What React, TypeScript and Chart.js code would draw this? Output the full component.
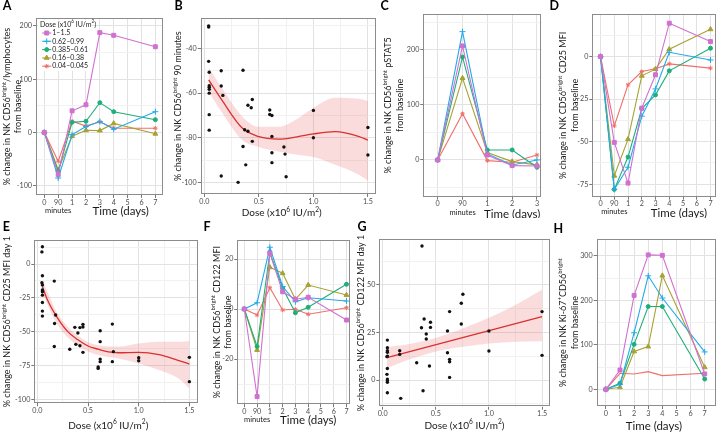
import React, { useEffect, useRef } from "react";
import { Chart, registerables } from "chart.js";
import { drawPoint } from "chart.js/helpers";

Chart.register(...registerables);

const FONT = "Lato, 'Open Sans', 'DejaVu Sans', sans-serif";
const INK = "#1a1a1a";
const TICK_INK = "#4d4d4d";
const TICK_MARK = "#7a7a7a";
const GRID_MAJOR = "#e2e2e2";
const GRID_MINOR = "#f1f1f1";
const FRAME = "#8c8c8c";
const FIT_RED = "#d8312e";
const BAND_PINK = "rgba(236, 96, 96, 0.22)";

// ---------- dose groups ----------
const DOSE_GROUPS = ["1–1.5", "0.62–0.99", "0.385–0.61", "0.16–0.38", "0.04–0.045"];
const LEGEND_TITLE = "Dose (x10^{6} IU/m^{2})";
const GROUP_COLORS = ["#d070d0", "#22aae8", "#1fae7a", "#a8a232", "#ef6f6a"];
const GROUP_SHAPES = ["rect", "cross", "circle", "triangle", "star"];
const GROUP_RADII = [2.8, 3, 2, 2.8, 2.2];

// ---------- time axes ----------
const LABELS_7DAY = ["0", "90", "1", "2", "3", "4", "5", "6", "7"];
const LABELS_3DAY = ["0", "90", "1", "2", "3"];
const LABELS_DAYS = ["0", "1", "2", "3", "4", "5", "6", "7"];
const TICKS_7DAY = [0, 1, 2, 3, 4, 5, 6, 7, 8];
const TICKS_3DAY = [0, 1, 2, 3, 4];
const TICKS_DAYS = [0, 1, 2, 3, 4, 5, 6, 7];
const SAMPLES_7DAY = [0, 1, 2, 3, 4, 5, 8]; // 0, 90 min, day 1, 2, 3, 4, 7
const SAMPLES_3DAY = [0, 1, 2, 3, 4]; // 0, 90 min, day 1, 2, 3
const SAMPLES_DAYS = [0, 1, 2, 3, 4, 7];
const DOSE_TICKS = [0, 0.25, 0.5, 0.75, 1, 1.25, 1.5];

// ---------- A: CD56bright / lymphocytes ----------
const A_LYMPH = [
  [0, -79, 40.6, 52, 187.5, 182.5, 161],
  [0, -85.6, -4, 11, 20.6, 6, 39],
  [0, -73, 19, 21, 56, 39, 24],
  [0, -70, -7, 4, 3.5, 17, -2.5],
  [0, -54, 21, 12, 20, 8, 8],
];
const A_Y_TICKS = [-100, -50, 0, 50, 100, 150, 200];

// ---------- B: 90 minutes vs dose ----------
const B_DOSE = [0.04, 0.04, 0.04, 0.045, 0.045, 0.045, 0.045, 0.045, 0.045, 0.045,
  0.155, 0.155, 0.17, 0.155, 0.355, 0.4, 0.44, 0.43, 0.37, 0.4, 0.44, 0.355, 0.38, 0.31,
  0.6, 0.6, 0.62, 0.62, 0.62, 0.62, 0.73, 0.74, 0.75, 1.0, 1.0, 1.5, 1.5];
const B_CHANGE = [-30, -30.5, -45.8, -50.7, -56.7, -57.4, -58.3, -60, -69.6, -76.5,
  -50, -56.8, -61, -97, -49.8, -65.4, -62.8, -66.5, -76.3, -77, -81.5, -83.8, -92, -99.8,
  -67.5, -69.5, -70, -79.3, -86.6, -91, -84, -87.2, -97.3, -67.7, -79.9, -75.3, -87.6];
const B_FIT_X = [0.04, 0.16, 0.35, 0.5, 0.68, 0.85, 1.0, 1.2, 1.42, 1.5];
const B_FIT_Y = [-54.1, -63, -75.7, -79.4, -80.5, -79.5, -78.2, -77.2, -79.4, -81];
const B_BAND_HI = [-48.5, -57.5, -70.5, -75, -75, -71.5, -66.5, -62, -62.5, -63.5];
const B_BAND_LO = [-59.5, -68.5, -81, -84, -86, -87.5, -88.5, -92, -96.5, -99];
const B_Y_TICKS = [-100, -90, -80, -70, -60, -50, -40, -30];

// ---------- C: pSTAT5 ----------
const C_PSTAT5 = [
  [0, 207, 9, -10.3, -11],
  [0, 233, 10.9, -9, 0],
  [0, 187, 18.2, 18.2, -13.3],
  [0, 148.5, 13.3, -3, -9],
  [0, 84, -1.2, -4.2, 9],
];
const C_Y_TICKS = [-50, 0, 50, 100, 150, 200, 250];

// ---------- D: CD25 MFI ----------
const D_CD25 = [
  [0, -50.4, -74.3, -30.3, -10.7, 19.6, 8.8],
  [0, -78, -65, -35, -19, 2.5, -2],
  [0, -78, -59, -30.5, -22.5, -8.4, 4.9],
  [0, -70, -48.5, -11.3, -7.4, 4.3, 16],
  [0, -40.7, -16.6, -8.8, -7.2, -4.3, -6.8],
];
const D_Y_TICKS = [-75, -62.5, -50, -37.5, -25, -12.5, 0, 12.5];

// ---------- E: CD25 MFI day 1 vs dose ----------
const E_DOSE = [0.05, 0.045, 0.05, 0.045, 0.05, 0.05, 0.05, 0.05, 0.05, 0.05, 0.05,
  0.167, 0.17, 0.18, 0.167, 0.32, 0.37, 0.38, 0.4, 0.42, 0.42, 0.45, 0.45, 0.45,
  0.62, 0.62, 0.6, 0.6, 0.62, 0.62, 0.74, 0.74, 0.75, 1.0, 1.0, 1.5, 1.5];
const E_CHANGE = [12.8, 9, -8.6, -13.8, -15.5, -19.2, -20.5, -23, -28.4, -34.8, -38.5,
  -12.6, -44, -37.7, -61, -63, -46.8, -59.4, -51, -60.4, -47, -44.6, -46.6, -65.3,
  -49.3, -57.4, -76.2, -77.2, -70.3, -72.2, -44.4, -72.2, -64.8, -69.3, -71.5, -69, -87];
const E_FIT_X = [0.05, 0.1, 0.2, 0.3, 0.4, 0.5, 0.6, 0.7, 0.8, 1.0, 1.2, 1.38, 1.5];
const E_FIT_Y = [-16.8, -26.6, -40, -50, -56, -60.6, -63, -65, -65.6, -65.3, -67, -71, -74];
const E_BAND_X = [0.05, 0.2, 0.4, 0.6, 0.8, 1.0, 1.2, 1.4, 1.5];
const E_BAND_HI = [-11.8, -36.5, -53, -60, -61, -58.7, -57.4, -57.5, -57];
const E_BAND_LO = [-21.7, -45, -60.4, -67.3, -69.8, -73.5, -78.4, -85, -92];
const E_Y_TICKS = [-100, -87.5, -75, -62.5, -50, -37.5, -25, -12.5, 0, 12.5];

// ---------- F: CD122 MFI ----------
const F_CD122 = [
  [0, -35, 22.3, 6.9, 3.9, 4.7, -4.4],
  [0, 2.5, 24.7, 9, 2.9, 4.5, 3.2],
  [0, -15, 22.7, 8.3, -1.5, 0.7, 9.9],
  [0, -16.4, 16.7, 14.3, 3.9, 9.6, 5.6],
  [0, -2.4, 8.5, -0.4, -0.1, -2.1, 0.5],
];
const F_Y_TICKS = [-30, -20, -10, 0, 10, 20];

// ---------- G: CD122 MFI day 1 vs dose ----------
const G_DOSE = [0.044, 0.044, 0.044, 0.044, 0.044, 0.04, 0.044, 0.04, 0.044, 0.044, 0.044, 0.044,
  0.16, 0.16, 0.17, 0.32, 0.37, 0.365, 0.39, 0.38, 0.41, 0.41, 0.45, 0.45, 0.44,
  0.61, 0.61, 0.63, 0.63, 0.63, 0.63, 0.74, 0.74, 0.755, 1.0, 1.0, 1.5, 1.5];
const G_CHANGE = [21, 17, 15.4, 14.6, 12.6, 12.3, 6.1, 3, 0.5, -0.4, -1.2, -6.7,
  15.4, 13.5, -9.6, 9.1, 70.5, 27.5, 32.1, -5.6, 24.2, 21.6, 30.4, 27.7, 7.4,
  25.8, 14.4, 36, 10.9, 9.6, 1.4, 29.5, 40.4, 45.1, 25.8, 15.3, 36, 13];
const G_FIT_X = [0.04, 1.5];
const G_FIT_Y = [11.8, 33.4];
const G_BAND_X = [0.04, 0.2, 0.4, 0.6, 0.8, 1.0, 1.2, 1.5];
const G_BAND_HI = [17.4, 18.5, 20.7, 24, 28.2, 32.8, 38, 47.5];
const G_BAND_LO = [6.2, 9.9, 13.5, 16.2, 17.8, 19.2, 20, 20.4];
const G_Y_TICKS = [-12.5, 0, 12.5, 25, 37.5, 50, 62.5];

// ---------- H: Ki-67+ ----------
const H_KI67 = [
  [0, 43.4, 211, 302, 301, 34.5],
  [0, 11, 127, 255, 205, 84],
  [0, 13.5, 101, 186, 186, 23],
  [0, 4.5, 85, 96, 255.4, 49.4],
  [0, 36, 34.5, 39.7, 30.7, 36],
];
const H_Y_TICKS = [0, 50, 100, 150, 200, 250, 300];

// ---------- helpers ----------
const isMult = (v: number, m: number) => {
  const r = v / m;
  return Math.abs(r - Math.round(r)) < 1e-6;
};

function groupSets(xs: number[], rows: number[][], markerless: number[] = []) {
  return rows.map((row, g) => ({
    type: "line",
    label: DOSE_GROUPS[g],
    data: row.map((y, i) => ({ x: xs[i], y })),
    borderColor: GROUP_COLORS[g],
    backgroundColor: GROUP_COLORS[g],
    pointBackgroundColor: GROUP_COLORS[g],
    pointBorderColor: GROUP_COLORS[g],
    borderWidth: 1.1,
    pointStyle: GROUP_SHAPES[g],
    pointRadius: markerless.includes(g) ? 0 : GROUP_RADII[g],
    pointBorderWidth: 1,
    tension: 0,
    fill: false,
  }));
}

function scatterSets(dose: number[], change: number[], fitX: number[], fitY: number[],
  bandX: number[], bandHi: number[], bandLo: number[], smooth: boolean) {
  const interp = smooth ? { cubicInterpolationMode: "monotone" } : { tension: 0 };
  return [
    {
      type: "line", label: "patients",
      data: dose.map((x, i) => ({ x, y: change[i] })),
      showLine: false, pointRadius: 1.7, pointBorderWidth: 0,
      pointBackgroundColor: "#111", pointBorderColor: "#111",
    },
    {
      type: "line", label: "fit",
      data: fitX.map((x, i) => ({ x, y: fitY[i] })),
      borderColor: FIT_RED, borderWidth: 1.3, pointRadius: 0, fill: false, ...interp,
    },
    {
      type: "line", label: "band upper",
      data: bandX.map((x, i) => ({ x, y: bandHi[i] })),
      borderColor: "rgba(0,0,0,0)", borderWidth: 0, pointRadius: 0,
      backgroundColor: BAND_PINK, fill: "+1", cubicInterpolationMode: "monotone",
    },
    {
      type: "line", label: "band lower",
      data: bandX.map((x, i) => ({ x, y: bandLo[i] })),
      borderColor: "rgba(0,0,0,0)", borderWidth: 0, pointRadius: 0,
      fill: false, cubicInterpolationMode: "monotone",
    },
  ];
}

// rich text: "^{...}" marks a superscript run
function parseRich(s: string) {
  const out: { t: string; sup: boolean }[] = [];
  const re = /\^\{([^}]*)\}/g;
  let last = 0;
  let m: RegExpExecArray | null;
  while ((m = re.exec(s))) {
    if (m.index > last) out.push({ t: s.slice(last, m.index), sup: false });
    out.push({ t: m[1], sup: true });
    last = m.index + m[0].length;
  }
  if (last < s.length) out.push({ t: s.slice(last), sup: false });
  return out;
}

function drawRich(ctx: CanvasRenderingContext2D, s: string, x: number, y: number, size: number,
  align: "left" | "center", rotate: boolean) {
  const parts = parseRich(s);
  const supSize = size * 0.66;
  const widths = parts.map((p) => {
    ctx.font = `${p.sup ? supSize : size}px ${FONT}`;
    return ctx.measureText(p.t).width;
  });
  const total = widths.reduce((a, b) => a + b, 0);
  ctx.save();
  ctx.translate(x, y);
  if (rotate) ctx.rotate(-Math.PI / 2);
  ctx.textAlign = "left";
  ctx.textBaseline = "middle";
  let cx = align === "center" ? -total / 2 : 0;
  parts.forEach((p, i) => {
    ctx.font = `${p.sup ? supSize : size}px ${FONT}`;
    ctx.fillText(p.t, cx, p.sup ? -size * 0.36 : 0);
    cx += widths[i];
  });
  ctx.restore();
}

type Txt = { text: string; xv: number; dy: number; size: number };
type Panel = {
  key: string; letter: string; letterX: number; letterY: number;
  left: number; top: number; w: number; h: number;
  plotL: number; plotT: number; plotR: number; plotB: number;
  xMin: number; xMax: number; xTicks: number[];
  xLabel: (v: number) => string; xMajor: (v: number) => boolean;
  yMin: number; yMax: number; yTicks: number[]; yStep: number;
  yTitle: string[]; yTitleX: number;
  datasets: any[]; texts: Txt[]; legend?: boolean;
};

const timeLabel = (labels: string[]) => (v: number) => labels[Math.round(v)] ?? "";
const doseLabel = (v: number) => (isMult(v, 0.5) ? v.toFixed(1) : "");
const doseMajor = (v: number) => isMult(v, 0.5);
const allMajor = () => true;

const BRIGHT = "CD56^{bright}";
const DOSE_TITLE = "Dose (x10^{6} IU/m^{2})";
const TIME_TITLE = "Time (days)";
const FROM_BASE = "from baseline";

const PANELS: Panel[] = [
  {
    key: "A", letter: "A", letterX: 7, letterY: 5.5,
    left: 0, top: 0, w: 172, h: 218, plotL: 36, plotT: 18, plotR: 163, plotB: 195,
    xMin: -0.6, xMax: 8.55, xTicks: TICKS_7DAY, xLabel: timeLabel(LABELS_7DAY), xMajor: allMajor,
    yMin: -117.5, yMax: 215, yTicks: A_Y_TICKS, yStep: 100,
    yTitle: [`% change in NK ${BRIGHT}/lymphocytes`, FROM_BASE], yTitleX: 7,
    datasets: groupSets(SAMPLES_7DAY, A_LYMPH),
    texts: [{ text: "minutes", xv: 1, dy: 16, size: 7.5 }, { text: TIME_TITLE, xv: 5.5, dy: 16, size: 11.5 }],
    legend: true,
  },
  {
    key: "B", letter: "B", letterX: 178.5, letterY: 5.5,
    left: 172, top: 0, w: 208, h: 218, plotL: 200.7, plotT: 18.3, plotR: 376.7, plotB: 194,
    xMin: -0.033, xMax: 1.574, xTicks: DOSE_TICKS, xLabel: doseLabel, xMajor: doseMajor,
    yMin: -105, yMax: -26.6, yTicks: B_Y_TICKS, yStep: 20,
    yTitle: [`% change in NK ${BRIGHT} 90 minutes`], yTitleX: 178,
    datasets: scatterSets(B_DOSE, B_CHANGE, B_FIT_X, B_FIT_Y, B_FIT_X, B_BAND_HI, B_BAND_LO, true),
    texts: [{ text: DOSE_TITLE, xv: 0.71, dy: 19, size: 10 }],
  },
  {
    key: "C", letter: "C", letterX: 384.7, letterY: 5.5,
    left: 380, top: 0, w: 168, h: 218, plotL: 423.3, plotT: 14, plotR: 541.7, plotB: 196.7,
    xMin: -0.58, xMax: 4.19, xTicks: TICKS_3DAY, xLabel: timeLabel(LABELS_3DAY), xMajor: allMajor,
    yMin: -66.7, yMax: 265, yTicks: C_Y_TICKS, yStep: 100,
    yTitle: [`% change in NK ${BRIGHT} pSTAT5`, FROM_BASE], yTitleX: 388.3,
    datasets: groupSets(SAMPLES_3DAY, C_PSTAT5),
    texts: [{ text: "minutes", xv: 1, dy: 15.6, size: 7.5 }, { text: TIME_TITLE, xv: 3.0, dy: 18, size: 11.5 }],
  },
  {
    key: "D", letter: "D", letterX: 554.3, letterY: 5.5,
    left: 548, top: 0, w: 173, h: 218, plotL: 592.3, plotT: 14, plotR: 719.3, plotB: 196.7,
    xMin: -0.6, xMax: 8.4, xTicks: TICKS_7DAY, xLabel: timeLabel(LABELS_7DAY), xMajor: allMajor,
    yMin: -82.3, yMax: 25, yTicks: D_Y_TICKS, yStep: 25,
    yTitle: [`% change in NK ${BRIGHT} CD25 MFI`, FROM_BASE], yTitleX: 563.5,
    datasets: groupSets(SAMPLES_7DAY, D_CD25),
    texts: [{ text: "minutes", xv: 1, dy: 15.3, size: 7.5 }, { text: TIME_TITLE, xv: 5.7, dy: 16.3, size: 11.5 }],
  },
  {
    key: "E", letter: "E", letterX: 6.3, letterY: 227,
    left: 0, top: 218, w: 202, h: 216, plotL: 34.3, plotT: 240, plotR: 200, plotB: 403.3,
    xMin: -0.03, xMax: 1.585, xTicks: DOSE_TICKS, xLabel: doseLabel, xMajor: doseMajor,
    yMin: -103, yMax: 17.8, yTicks: E_Y_TICKS, yStep: 25,
    yTitle: [`% change in NK ${BRIGHT} CD25 MFI day 1`], yTitleX: 7.3,
    datasets: scatterSets(E_DOSE, E_CHANGE, E_FIT_X, E_FIT_Y, E_BAND_X, E_BAND_HI, E_BAND_LO, true),
    texts: [{ text: DOSE_TITLE, xv: 0.7, dy: 22.4, size: 10 }],
  },
  {
    key: "F", letter: "F", letterX: 207, letterY: 227,
    left: 202, top: 218, w: 154, h: 216, plotL: 237.3, plotT: 240, plotR: 350.7, plotB: 404.3,
    xMin: -0.55, xMax: 8.33, xTicks: TICKS_7DAY, xLabel: timeLabel(LABELS_7DAY), xMajor: allMajor,
    yMin: -38.1, yMax: 27.6, yTicks: F_Y_TICKS, yStep: 20,
    yTitle: [`% change in NK ${BRIGHT} CD122 MFI`, FROM_BASE], yTitleX: 216.7,
    datasets: groupSets(SAMPLES_7DAY, F_CD122),
    texts: [{ text: "minutes", xv: 1, dy: 15.7, size: 7.5 }, { text: TIME_TITLE, xv: 5.0, dy: 15.7, size: 11.5 }],
  },
  {
    key: "G", letter: "G", letterX: 362, letterY: 227,
    left: 356, top: 218, w: 198, h: 216, plotL: 379.3, plotT: 239.3, plotR: 550.7, plotB: 406.7,
    xMin: -0.032, xMax: 1.575, xTicks: DOSE_TICKS, xLabel: doseLabel, xMajor: doseMajor,
    yMin: -14, yMax: 74, yTicks: G_Y_TICKS, yStep: 25,
    yTitle: [`% change in NK ${BRIGHT} CD122 MFI day 1`], yTitleX: 361,
    datasets: scatterSets(G_DOSE, G_CHANGE, G_FIT_X, G_FIT_Y, G_BAND_X, G_BAND_HI, G_BAND_LO, false),
    texts: [{ text: DOSE_TITLE, xv: 0.77, dy: 19, size: 10 }],
  },
  {
    key: "H", letter: "H", letterX: 558.3, letterY: 229,
    left: 554, top: 218, w: 167, h: 216, plotL: 596.7, plotT: 239.3, plotR: 718.3, plotB: 406,
    xMin: -0.65, xMax: 7.8, xTicks: TICKS_DAYS, xLabel: timeLabel(LABELS_DAYS), xMajor: allMajor,
    yMin: -37.5, yMax: 337, yTicks: H_Y_TICKS, yStep: 100,
    yTitle: [`% change in NK Ki-67^{+}${BRIGHT}`, FROM_BASE], yTitleX: 563.3,
    datasets: groupSets(SAMPLES_DAYS, H_KI67, [4]),
    texts: [{ text: TIME_TITLE, xv: 3.4, dy: 20, size: 11.5 }],
  },
];

function drawLegend(chart: any) {
  const { ctx, chartArea: a } = chart;
  ctx.save();
  ctx.fillStyle = "#ffffff";
  ctx.fillRect(a.left + 2, a.top + 2, 54, 51);
  ctx.fillStyle = INK;
  drawRich(ctx, LEGEND_TITLE, a.left + 4, a.top + 6.5, 7, "left", false);
  ctx.textAlign = "left";
  ctx.textBaseline = "middle";
  DOSE_GROUPS.forEach((g, i) => {
    const y = a.top + 15 + i * 8.3;
    const x = a.left + 10.7;
    ctx.strokeStyle = GROUP_COLORS[i];
    ctx.lineWidth = 1.1;
    ctx.beginPath();
    ctx.moveTo(x - 4.5, y);
    ctx.lineTo(x + 4.5, y);
    ctx.stroke();
    ctx.fillStyle = GROUP_COLORS[i];
    ctx.lineWidth = 1;
    drawPoint(ctx, { pointStyle: GROUP_SHAPES[i], radius: GROUP_RADII[i], borderWidth: 1, rotation: 0 } as any, x, y);
    ctx.fillStyle = INK;
    ctx.font = `7px ${FONT}`;
    ctx.fillText(g, a.left + 16.3, y);
  });
  ctx.restore();
}

const TITLE_SIZE = 9;
const TITLE_GAP = 11.5;

function decorPlugin(p: Panel) {
  return {
    id: "decor",
    beforeDatasetsDraw(chart: any) {
      const { ctx, chartArea: a } = chart;
      ctx.save();
      ctx.strokeStyle = FRAME;
      ctx.lineWidth = 1;
      ctx.strokeRect(Math.round(a.left) + 0.5, Math.round(a.top) + 0.5,
        Math.round(a.right - a.left) - 1, Math.round(a.bottom - a.top) - 1);
      ctx.restore();
    },
    afterDatasetsDraw(chart: any) {
      if (p.legend) drawLegend(chart);
    },
    afterDraw(chart: any) {
      const { ctx, chartArea: a, scales } = chart;
      ctx.save();
      ctx.textAlign = "center";
      ctx.textBaseline = "middle";
      ctx.fillStyle = "#000";
      ctx.font = `bold 12.5px ${FONT}`;
      ctx.fillText(p.letter, p.letterX - p.left, p.letterY - p.top);
      ctx.fillStyle = INK;
      for (const t of p.texts) {
        drawRich(ctx, t.text, scales.x.getPixelForValue(t.xv), a.bottom + t.dy, t.size, "center", false);
      }
      const cy = (a.top + a.bottom) / 2;
      p.yTitle.forEach((line, i) => {
        drawRich(ctx, line, p.yTitleX - p.left + i * TITLE_GAP, cy, TITLE_SIZE, "center", true);
      });
      ctx.restore();
    },
  };
}

function buildConfig(p: Panel): any {
  const tickFont = { family: FONT, size: 7.2 };
  const yMajor = (v: number) => isMult(v, p.yStep);
  return {
    type: "line",
    data: { datasets: p.datasets },
    options: {
      responsive: false,
      animation: false,
      devicePixelRatio: 1,
      events: [],
      layout: { padding: { left: 0, bottom: 0, top: p.plotT - p.top, right: p.left + p.w - p.plotR } },
      plugins: { legend: { display: false }, tooltip: { enabled: false } },
      scales: {
        x: {
          type: "linear", position: "bottom", bounds: "data", min: p.xMin, max: p.xMax,
          afterBuildTicks: (s: any) => { s.ticks = p.xTicks.map((value) => ({ value })); },
          afterFit: (s: any) => { s.height = p.top + p.h - p.plotB; },
          ticks: {
            autoSkip: false, maxRotation: 0, minRotation: 0, padding: 0,
            color: TICK_INK, font: tickFont, callback: (v: number) => p.xLabel(v),
          },
          grid: {
            lineWidth: 1, tickLength: 3,
            color: (c: any) => (c.tick && !p.xMajor(c.tick.value) ? GRID_MINOR : GRID_MAJOR),
            tickColor: (c: any) => (c.tick && !p.xMajor(c.tick.value) ? "rgba(0,0,0,0)" : TICK_MARK),
          },
          border: { display: false },
          title: { display: false },
        },
        y: {
          type: "linear", position: "left", bounds: "data", min: p.yMin, max: p.yMax,
          afterBuildTicks: (s: any) => { s.ticks = p.yTicks.map((value) => ({ value })); },
          afterFit: (s: any) => { s.width = p.plotL - p.left; },
          ticks: {
            autoSkip: false, padding: 1, color: TICK_INK, font: tickFont,
            callback: (v: number) => (yMajor(v) ? String(Math.round(v)) : ""),
          },
          grid: {
            lineWidth: 1, tickLength: 3,
            color: (c: any) => (c.tick && !yMajor(c.tick.value) ? GRID_MINOR : GRID_MAJOR),
            tickColor: (c: any) => (c.tick && !yMajor(c.tick.value) ? "rgba(0,0,0,0)" : TICK_MARK),
          },
          border: { display: false },
          title: { display: false },
        },
      },
    },
    plugins: [decorPlugin(p)],
  };
}

function PanelChart({ p }: { p: Panel }) {
  const ref = useRef<HTMLCanvasElement>(null);
  useEffect(() => {
    const chart = new Chart(ref.current as HTMLCanvasElement, buildConfig(p));
    return () => chart.destroy();
  }, [p]);
  return (
    <canvas
      ref={ref}
      width={p.w}
      height={p.h}
      style={{ position: "absolute", left: p.left, top: p.top, width: p.w, height: p.h }}
    />
  );
}

export default function App() {
  return (
    <div style={{ position: "absolute", left: 0, top: 0, width: 721, height: 434, background: "#fff", overflow: "hidden" }}>
      {PANELS.map((p) => (
        <PanelChart key={p.key} p={p} />
      ))}
    </div>
  );
}
